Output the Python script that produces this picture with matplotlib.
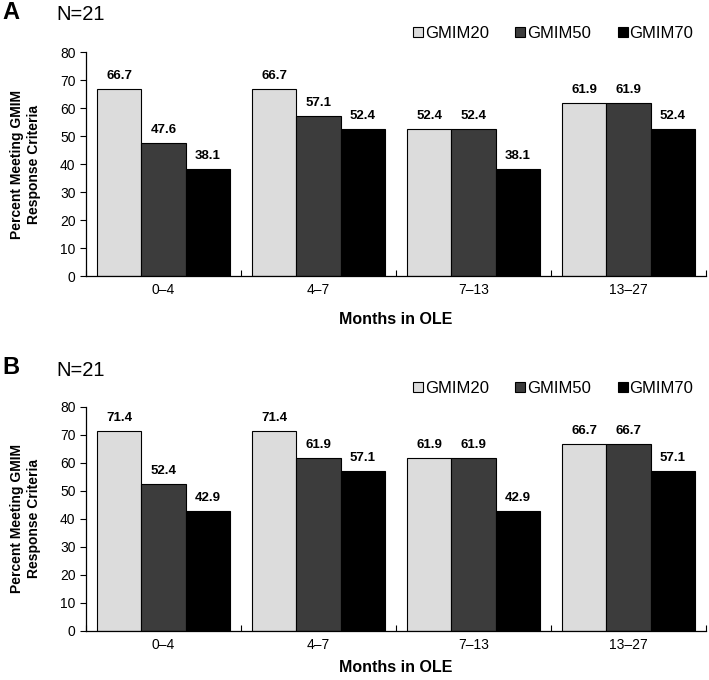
import numpy as np
import matplotlib
matplotlib.use("Agg")
import matplotlib.pyplot as plt

plt.rcParams['font.family'] = ['Liberation Sans', 'DejaVu Sans']

# data
periods = ['0\u20134', '4\u20137', '7\u201313', '13\u201327']
series_names = ['GMIM20', 'GMIM50', 'GMIM70']
panel_a = {
    'GMIM20': [66.7, 66.7, 52.4, 61.9],
    'GMIM50': [47.6, 57.1, 52.4, 61.9],
    'GMIM70': [38.1, 52.4, 38.1, 52.4],
}
panel_b = {
    'GMIM20': [71.4, 71.4, 61.9, 66.7],
    'GMIM50': [52.4, 61.9, 61.9, 66.7],
    'GMIM70': [42.9, 57.1, 42.9, 57.1],
}
colors = ['#dcdcdc', '#3c3c3c', '#000000']

fig = plt.figure(figsize=(7.09, 6.8), dpi=100)

def draw_panel(rect, data, letter, letter_y, n_y, xpad):
    ax = fig.add_axes(rect)
    x = np.arange(len(periods))
    w = 0.285
    handles = []
    for i, name in enumerate(series_names):
        vals = data[name]
        b = ax.bar(x + (i - 1) * w, vals, w, color=colors[i], edgecolor='black',
                   linewidth=0.8, label=name)
        handles.append(b)
        for xi, v in zip(x + (i - 1) * w, vals):
            ax.text(xi, v + 2.5, f'{v:.1f}', ha='center', va='bottom',
                    fontsize=9.5, fontweight='bold')
    ax.set_xlim(-0.5, len(periods) - 0.5)
    ax.set_ylim(0, 80)
    ax.set_yticks(range(0, 81, 10))
    ax.set_xticks(x)
    ax.set_xticklabels(periods, fontsize=10)
    ax.set_xticks(np.arange(-0.5, len(periods), 1.0), minor=True)
    ax.tick_params(axis='x', which='major', length=0, pad=5)
    ax.tick_params(axis='x', which='minor', length=4, direction='in', width=0.8)
    ax.tick_params(axis='y', length=4, direction='out', width=0.8, labelsize=10)
    for s in ['top', 'right']:
        ax.spines[s].set_visible(False)
    for s in ['left', 'bottom']:
        ax.spines[s].set_linewidth(0.9)
    ax.set_xlabel('Months in OLE', fontsize=11.5, fontweight='bold', labelpad=xpad)
    ax.set_ylabel('Percent Meeting GMIM\nResponse Criteria', fontsize=10,
                  fontweight='bold', labelpad=14)
    ax.legend(handles=handles, loc='lower right', bbox_to_anchor=(0.99, 1.02),
              ncol=3, frameon=False, fontsize=12, handlelength=0.6,
              handleheight=0.6, handletextpad=0.1, columnspacing=1.6,
              borderaxespad=0)
    fig.text(0.003, letter_y, letter, fontsize=17, fontweight='bold', va='center')
    fig.text(0.079, n_y, 'N=21', fontsize=14.5, va='center')
    return ax

draw_panel([0.1213, 0.5941, 0.8745, 0.3294], panel_a, 'A', 0.981, 0.979, 11)
draw_panel([0.1213, 0.0721, 0.8745, 0.3294], panel_b, 'B', 0.459, 0.455, 6)

fig.savefig('out.png', dpi=100)
